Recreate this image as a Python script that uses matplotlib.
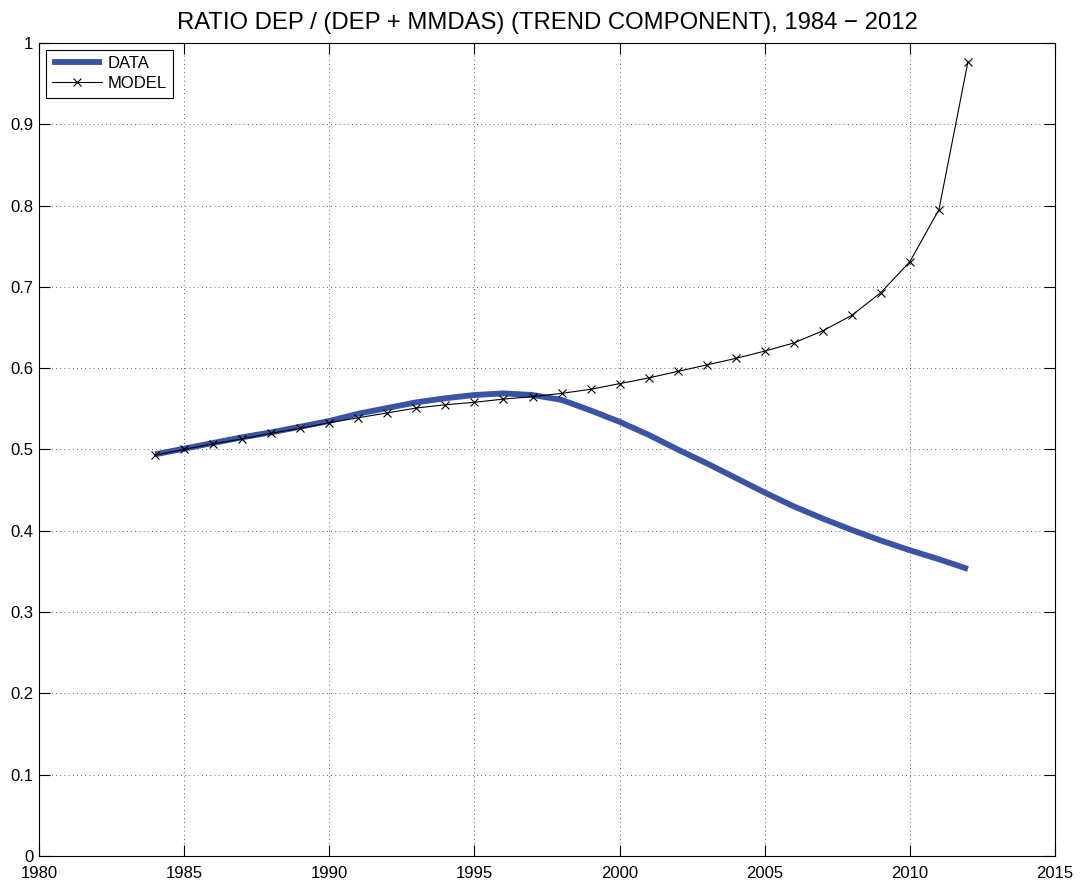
import matplotlib
matplotlib.use("Agg")
import matplotlib.pyplot as plt
from matplotlib import font_manager as fm
import numpy as np

# keep the regular (non-narrow) Liberation Sans
fm.fontManager.ttflist = [f for f in fm.fontManager.ttflist
                          if not (f.name == 'Liberation Sans' and 'Narrow' in f.fname)]
plt.rcParams['font.family'] = ['Liberation Sans', 'DejaVu Sans']

years = list(range(1984, 2013))
data = [0.494, 0.501, 0.508, 0.515, 0.521, 0.528, 0.535, 0.544, 0.551, 0.558,
        0.563, 0.567, 0.569, 0.567, 0.561, 0.548, 0.534, 0.518, 0.500, 0.483,
        0.465, 0.447, 0.430, 0.415, 0.401, 0.388, 0.376, 0.365, 0.353]
model = [0.493, 0.500, 0.507, 0.513, 0.520, 0.526, 0.533, 0.539, 0.545, 0.551,
         0.555, 0.558, 0.562, 0.565, 0.569, 0.574, 0.581, 0.588, 0.596, 0.604,
         0.612, 0.621, 0.631, 0.646, 0.665, 0.693, 0.731, 0.795, 0.977]
xticks = [1980, 1985, 1990, 1995, 2000, 2005, 2010, 2015]
yticks = [0, 0.1, 0.2, 0.3, 0.4, 0.5, 0.6, 0.7, 0.8, 0.9, 1]
ytick_labels = ['0', '0.1', '0.2', '0.3', '0.4', '0.5', '0.6', '0.7', '0.8', '0.9', '1']

fig = plt.figure(figsize=(10.81, 8.86), dpi=100)
ax = fig.add_axes([0.0361, 0.0339, 0.9399, 0.9176])

ax.plot(years, data, color='#3a53a4', linewidth=4.2, label='DATA', solid_capstyle='butt')
ax.plot(years, model, color='black', linewidth=0.8, marker='x', markersize=6,
        markeredgewidth=0.8, label='MODEL')

ax.set_xlim(1980, 2015)
ax.set_ylim(0, 1)
ax.set_xticks(xticks)
ax.set_xticklabels([str(x) for x in xticks])
ax.set_yticks(yticks)
ax.set_yticklabels(ytick_labels)
ax.tick_params(direction='in', top=True, right=True, labelsize=12, length=8, width=0.8)
ax.tick_params(axis='x', pad=7)
ax.tick_params(axis='y', pad=4)
ax.grid(True, linestyle=(0, (1, 4)), color='black', linewidth=0.6, alpha=0.8)
for s in ax.spines.values():
    s.set_linewidth(0.8)

ax.set_title('RATIO DEP / (DEP + MMDAS) (TREND COMPONENT), 1984 \u2212 2012', fontsize=17.2, pad=10)

leg = ax.legend(loc='upper left', fontsize=12, fancybox=False, edgecolor='black',
                framealpha=1, borderaxespad=0.4, handlelength=3.0, handletextpad=0.3,
                labelspacing=0.3, borderpad=0.4)
leg.get_frame().set_linewidth(0.8)

fig.savefig('out.png', dpi=100)
